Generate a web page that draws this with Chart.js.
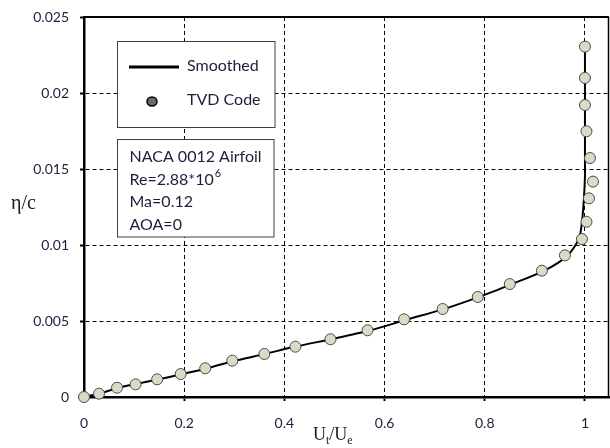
<!DOCTYPE html>
<html>
<head>
<meta charset="utf-8">
<script src="https://cdn.jsdelivr.net/npm/chart.js@4/dist/chart.umd.min.js"></script>
<style>
  body { margin: 0; background: #fff; }
  #chart { display: block; }
</style>
</head>
<body>
<canvas id="chart" width="610" height="448"></canvas>
<script>
// TVD code points (U_t/U_e, eta/c)
const tvdU = [0, 0.03, 0.066, 0.103, 0.146, 0.193, 0.242, 0.296, 0.36, 0.422, 0.492, 0.566,
  0.639, 0.716, 0.786, 0.85, 0.914, 0.96, 0.994, 1.003, 1.008, 1.016, 1.01, 1.003, 1.0, 1.0, 1.0];
const tvdEta = [0, 0.00022, 0.00061, 0.00083, 0.00116, 0.00151, 0.00189, 0.00239, 0.00283, 0.00331,
  0.0038, 0.00439, 0.00511, 0.00579, 0.00658, 0.00743, 0.00831, 0.00932, 0.01039, 0.01153,
  0.01307, 0.01417, 0.01572, 0.01748, 0.01921, 0.02099, 0.02305];

// smoothed profile
const smoothU = [0, 0.03, 0.066, 0.1, 0.15, 0.2, 0.25, 0.3, 0.36, 0.42, 0.5, 0.57, 0.64, 0.72,
  0.79, 0.854, 0.918, 0.965, 0.988, 0.994, 0.998, 1.0, 1.0, 1.0];
const smoothEta = [0, 0.00022, 0.00058, 0.00083, 0.00117, 0.00154, 0.00193, 0.00237, 0.00282,
  0.0033, 0.00385, 0.00437, 0.00505, 0.0058, 0.0066, 0.00743, 0.0083, 0.0093, 0.0104, 0.0115,
  0.0131, 0.0145, 0.0157, 0.023];

const xTicks = [0, 0.2, 0.4, 0.6, 0.8, 1];
const legendLabels = ['Smoothed', 'TVD Code'];
const infoLines = ['NACA 0012 Airfoil', 'Re=2.88*10', 'Ma=0.12', 'AOA=0'];

const toPoints = (xs, ys) => xs.map((x, i) => ({ x, y: ys[i] }));

const textColor = '#1e1e3c';
const boxFont = '16px Lato';

const extras = {
  id: 'extras',
  afterDraw(chart) {
    const { ctx, chartArea: a } = chart;
    ctx.save();

    // top and right frame
    ctx.strokeStyle = '#000';
    ctx.lineWidth = 2;
    ctx.beginPath();
    ctx.moveTo(a.left, a.top);
    ctx.lineTo(a.right, a.top);
    ctx.stroke();
    ctx.lineWidth = 1.5;
    ctx.beginPath();
    ctx.moveTo(a.right - 0.5, a.top);
    ctx.lineTo(a.right - 0.5, a.bottom);
    ctx.stroke();

    // legend box
    ctx.fillStyle = '#fff';
    ctx.strokeStyle = '#404040';
    ctx.lineWidth = 1;
    ctx.fillRect(117.5, 41.5, 157.5, 86);
    ctx.strokeRect(117.5, 41.5, 157.5, 86);
    ctx.strokeStyle = '#000';
    ctx.lineWidth = 3;
    ctx.beginPath();
    ctx.moveTo(129, 67);
    ctx.lineTo(179, 67);
    ctx.stroke();
    ctx.beginPath();
    ctx.ellipse(152, 101.5, 5, 4.5, 0, 0, Math.PI * 2);
    ctx.fillStyle = '#6b6b6b';
    ctx.fill();
    ctx.lineWidth = 1.5;
    ctx.stroke();
    ctx.fillStyle = textColor;
    ctx.font = boxFont;
    ctx.textBaseline = 'middle';
    ctx.textAlign = 'left';
    ctx.fillText(legendLabels[0], 187, 66);
    ctx.fillText(legendLabels[1], 187, 100);

    // info box
    ctx.fillStyle = '#fff';
    ctx.strokeStyle = '#404040';
    ctx.lineWidth = 1;
    ctx.fillRect(117.5, 139.5, 156.5, 97.5);
    ctx.strokeRect(117.5, 139.5, 156.5, 97.5);
    ctx.fillStyle = textColor;
    const ys = [157, 179.5, 202, 224.5];
    infoLines.forEach((t, i) => ctx.fillText(t, 129.5, ys[i]));
    const w = ctx.measureText(infoLines[1]).width;
    ctx.font = '11px Lato';
    ctx.fillText('6', 129.5 + w + 1, ys[1] - 6);

    // axis titles
    ctx.fillStyle = '#1a1a1a';
    ctx.font = '20px "Liberation Serif"';
    ctx.textAlign = 'left';
    ctx.fillText('\u03b7/c', 11, 204);

    let x = 313;
    const yb = 440;
    ctx.textBaseline = 'alphabetic';
    const part = (txt, size, dy) => {
      ctx.font = size + 'px "Liberation Serif"';
      ctx.fillText(txt, x, yb + dy);
      x += ctx.measureText(txt).width;
    };
    part('U', 18, 0);
    part('t', 12, 4);
    part('/', 18, 0);
    part('U', 18, 0);
    part('e', 12, 4);

    ctx.restore();
  },
};

new Chart(document.getElementById('chart'), {
  type: 'scatter',
  data: {
    datasets: [{
      label: legendLabels[1],
      data: toPoints(tvdU, tvdEta),
      pointRadius: 5.5,
      pointBackgroundColor: '#dcdac6',
      pointBorderColor: '#4a4a4a',
      pointBorderWidth: 1,
      clip: false,
      order: 0,
    }, {
      label: legendLabels[0],
      data: toPoints(smoothU, smoothEta),
      showLine: true,
      pointRadius: 0,
      borderColor: '#000',
      borderWidth: 2,
      tension: 0.25,
      order: 1,
    }],
  },
  options: {
    responsive: false,
    animation: false,
    layout: { autoPadding: false, padding: { top: 17, right: 1, left: 0, bottom: 0 } },
    plugins: {
      legend: { display: false },
      tooltip: { enabled: false },
    },
    scales: {
      x: {
        type: 'linear',
        min: 0,
        max: 1.048,
        afterFit: (s) => {
          s.height = 51;
          s.paddingLeft = 0;
          s.paddingRight = 0;
        },
        afterBuildTicks: (s) => {
          s.ticks = xTicks.map((v) => ({ value: v }));
        },
        ticks: {
          padding: 14,
          color: textColor,
          font: { family: 'Lato', size: 14 },
          callback: (v) => String(+v.toFixed(2)),
        },
        grid: {
          color: '#000',
          lineWidth: 1,
          tickLength: 4,
          tickColor: '#000',
          tickWidth: 2,
        },
        border: { color: '#000', width: 2.5, dash: [4, 3] },
      },
      y: {
        type: 'linear',
        min: 0,
        max: 0.025,
        afterFit: (s) => {
          s.width = 84;
          s.paddingTop = 0;
          s.paddingBottom = 0;
        },
        ticks: {
          stepSize: 0.005,
          padding: 11,
          color: textColor,
          font: { family: 'Lato', size: 14 },
          callback: (v) => String(+v.toFixed(3)),
        },
        grid: {
          color: '#000',
          lineWidth: 1,
          tickLength: 4,
          tickColor: '#000',
          tickWidth: 2,
        },
        border: { color: '#000', width: 2.5, dash: [4, 3] },
      },
    },
  },
  plugins: [extras],
});
</script>
</body>
</html>
